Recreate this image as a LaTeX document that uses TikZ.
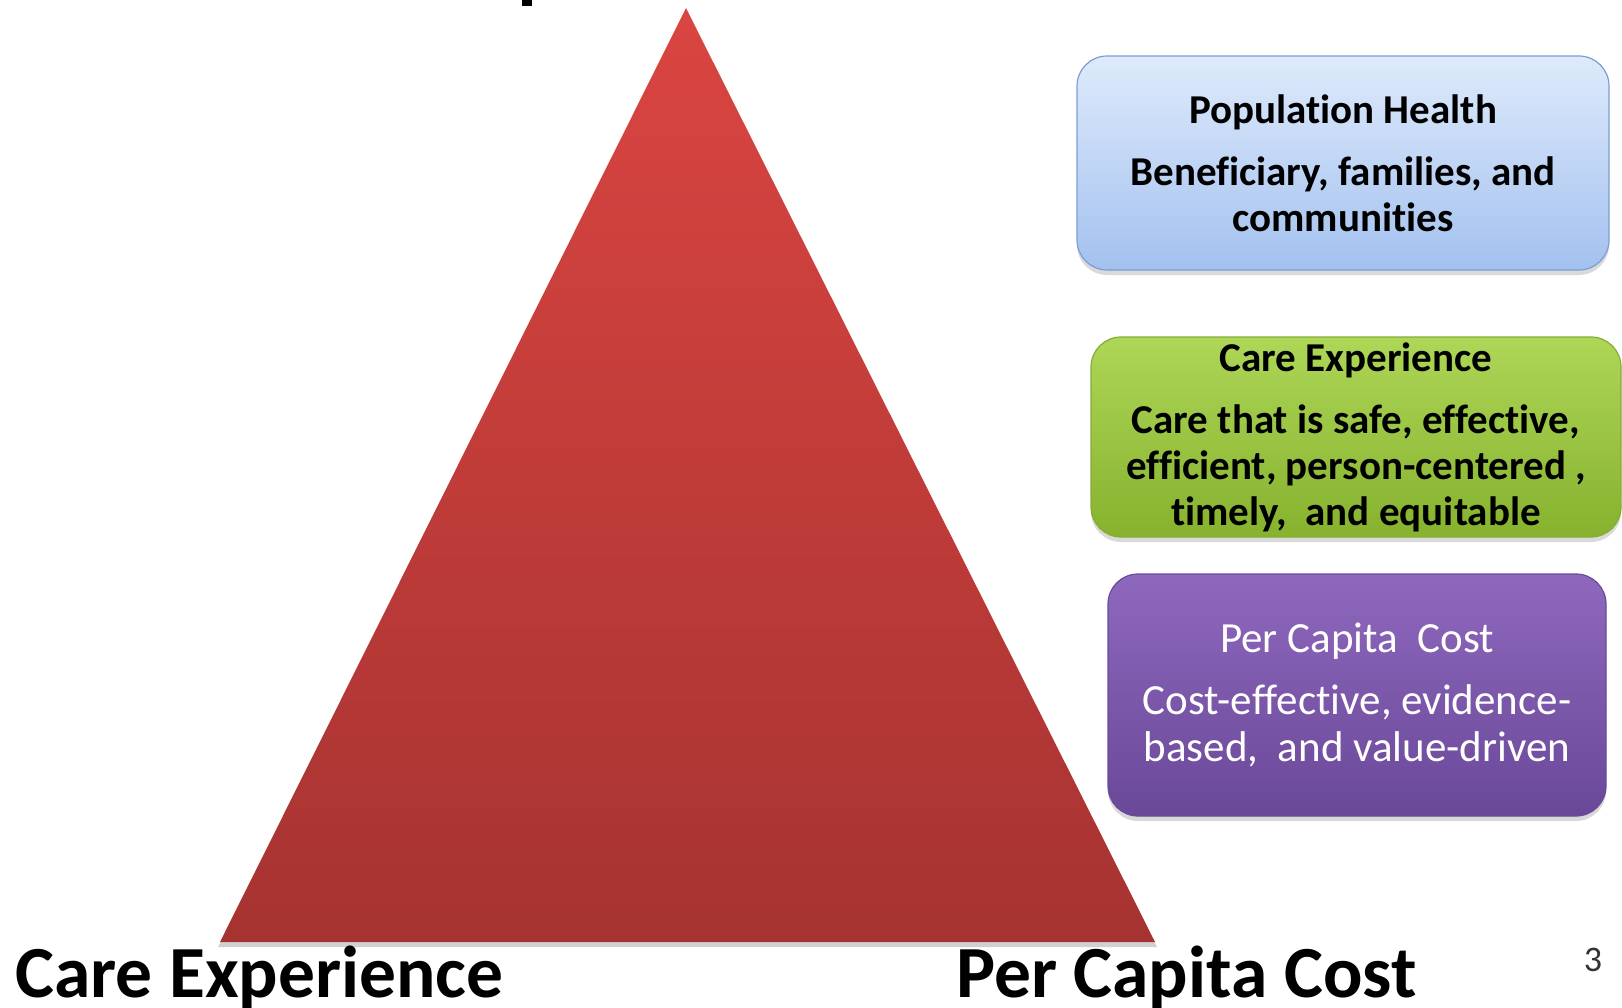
\documentclass[tikz,border=0pt]{standalone}
\usepackage{fontspec}
\setmainfont[Ligatures=NoCommon]{Carlito}
\usetikzlibrary{shadows}
\definecolor{triTop}{HTML}{DA4541}
\definecolor{triBot}{HTML}{A63331}
\definecolor{bluTop}{HTML}{DEEAFB}
\definecolor{bluBot}{HTML}{A3C1EF}
\definecolor{bluLine}{HTML}{7C9DD4}
\definecolor{grnTop}{HTML}{AED657}
\definecolor{grnBot}{HTML}{86B22E}
\definecolor{grnLine}{HTML}{86AC36}
\definecolor{purTop}{HTML}{8E68BE}
\definecolor{purBot}{HTML}{6A4898}
\definecolor{purLine}{HTML}{6A4B97}
\tikzset{
  infobox/.style={rectangle, rounded corners=30pt, line width=1.2pt, align=center,
    inner sep=0pt, drop shadow={opacity=0.3, shadow xshift=0pt, shadow yshift=-5pt}},
  boxtext/.style={font=\fontsize{41}{46}\selectfont},
  biglabel/.style={font=\fontsize{73.5}{80}\selectfont\bfseries, anchor=base west, inner sep=0pt}
}
\begin{document}
\begin{tikzpicture}[x=1pt,y=-1pt]
\useasboundingbox (0,0) rectangle (1622,1007);
% cut-off glyph fragment at top
\fill[black] (522,0) rectangle (532,6);
% triangle
\coordinate (apex) at (686,8);
\coordinate (bl) at (220,942);
\coordinate (br) at (1155,942);
\fill[black, opacity=0.18] ([yshift=-5pt]apex) -- ([xshift=-2pt,yshift=-5pt]bl) -- ([xshift=2pt,yshift=-5pt]br) -- cycle;
\shade[top color=triTop, bottom color=triBot] (apex) -- (bl) -- (br) -- cycle;
% boxes
\node[infobox, draw=bluLine, top color=bluTop, bottom color=bluBot,
  minimum width=532pt, minimum height=214pt, boxtext] (pop) at (1343,163)
  {\bfseries Population Health\\[16pt]\bfseries Beneficiary, families, and\\\bfseries communities};
\node[infobox, draw=grnLine, top color=grnTop, bottom color=grnBot,
  minimum width=530pt, minimum height=200pt, boxtext] (care) at (1356,437)
  {\bfseries Care Experience\\[16pt]\bfseries Care that is safe, effective,\\\bfseries efficient, person-centered ,\\\bfseries timely,\ \ and equitable};
\node[infobox, draw=purLine, top color=purTop, bottom color=purBot,
  minimum width=498pt, minimum height=242pt, text=white,
  font=\fontsize{43}{47}\selectfont] (cost) at (1357,695)
  {Per Capita\ \ Cost\\[15pt]Cost-effective, evidence-\\based,\ \ and value-driven};
% bottom labels
\node[biglabel] (lcare) at (15,997) {Care Experience};
\node[biglabel] (lcost) at (956,997) {Per Capita Cost};
\node[font=\fontsize{36}{40}\selectfont, text=black!80, anchor=base, inner sep=0pt] (pnum) at (1593,971) {3};
\end{tikzpicture}
\end{document}
